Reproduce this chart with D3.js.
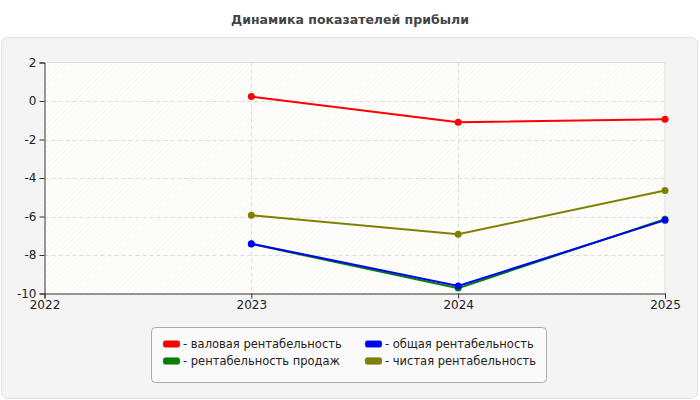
<!DOCTYPE html>
<html><head><meta charset="utf-8">
<script src="https://cdn.jsdelivr.net/npm/d3@7"></script>
<style>body{margin:0;background:#fff}svg{display:block}</style>
</head><body>
<svg id="c" width="700" height="400"></svg>
<script>
const title = "Динамика показателей прибыли";
const years = [2022, 2023, 2024, 2025];
const yTicks = [2, 0, -2, -4, -6, -8, -10];
const seriesNames = ["- валовая рентабельность", "- рентабельность продаж", "- общая рентабельность", "- чистая рентабельность"];
const seriesColors = ["#ff0000", "#008000", "#0000ff", "#808000"];
const dataYears = [2023, 2024, 2025];
const gross = [0.23, -1.1, -0.95];
const sales = [-7.43, -9.72, -6.14];
const total = [-7.41, -9.61, -6.19];
const net = [-5.93, -6.92, -4.65];
const seriesValues = [gross, sales, total, net];
// draw order: olive, red, green, blue
const drawOrder = [3, 0, 1, 2];

const svg = d3.select("#c");
const F = "'DejaVu Sans', sans-serif";
const defs = svg.append("defs");
const pat = defs.append("pattern").attr("id","hatch").attr("patternUnits","userSpaceOnUse")
  .attr("width",4).attr("height",4).attr("patternTransform","rotate(45)");
pat.append("rect").attr("width",4).attr("height",4).attr("fill","#fefefb");
pat.append("line").attr("x1",0).attr("y1",0).attr("x2",0).attr("y2",4).attr("stroke","#efefef").attr("stroke-width",1);

svg.append("rect").attr("x",0).attr("y",0).attr("width",700).attr("height",400).attr("fill","#ffffff");
svg.append("rect").attr("x",1.5).attr("y",37.5).attr("width",696).attr("height",361).attr("rx",6)
  .attr("fill","#f4f4f4").attr("stroke","#e2e2e2");

svg.append("text").attr("x",350).attr("y",24).attr("text-anchor","middle")
  .attr("font-family",F).attr("font-weight","bold").attr("font-size",12.5).attr("fill","#444")
  .text(title);

const L=44.5, R=665, T=62.5, B=293.5;
const x = d3.scaleLinear().domain([2022,2025]).range([L,R]);
const y = d3.scaleLinear().domain([-10,2]).range([B,T]);

svg.append("rect").attr("x",L).attr("y",T).attr("width",R-L).attr("height",B-T).attr("fill","url(#hatch)");
// frame top/right
svg.append("path").attr("d",`M${L},${T}H${R}V${B}`).attr("fill","none").attr("stroke","#dddddd");

const g = svg.append("g");
g.selectAll("line.hg").data(yTicks.filter(v=>v>-10&&v<2)).join("line")
  .attr("x1",L).attr("x2",R).attr("y1",d=>Math.round(y(d))+0.5).attr("y2",d=>Math.round(y(d))+0.5)
  .attr("stroke","#dcdcdc").attr("stroke-dasharray","4,3");
g.selectAll("line.vg").data(years.filter(v=>v>2022&&v<2025)).join("line")
  .attr("x1",d=>Math.round(x(d))+0.5).attr("x2",d=>Math.round(x(d))+0.5).attr("y1",T).attr("y2",B)
  .attr("stroke","#dcdcdc").attr("stroke-dasharray","4,3");

const yAxis = d3.axisLeft(y).tickValues(yTicks).tickFormat(d=>String(d)).tickSizeOuter(0).tickSize(5).tickPadding(3);
const ya = svg.append("g").attr("transform",`translate(${L},0)`).call(yAxis);
const xAxis = d3.axisBottom(x).tickValues(years).tickFormat(d=>String(d)).tickSizeOuter(0).tickSize(5).tickPadding(2);
const xa = svg.append("g").attr("transform",`translate(0,${B})`).call(xAxis);
[ya,xa].forEach(a=>{
  a.select(".domain").attr("stroke","#333");
  a.selectAll(".tick line").attr("stroke","#333");
  a.selectAll(".tick text").attr("font-family",F).attr("font-size",12).attr("fill","#222");
});

const line = d3.line().x((d,i)=>x(dataYears[i])).y(d=>y(d));
drawOrder.forEach(k=>{
  const vals = seriesValues[k];
  svg.append("path").datum(vals).attr("d",line).attr("fill","none")
    .attr("stroke",seriesColors[k]).attr("stroke-width",2);
  svg.append("g").selectAll("circle").data(vals).join("circle")
    .attr("cx",(d,i)=>x(dataYears[i])).attr("cy",d=>y(d)).attr("r",3.5).attr("fill",seriesColors[k]);
});

// legend
svg.append("rect").attr("x",151.5).attr("y",327.5).attr("width",395).attr("height",55).attr("rx",4)
  .attr("fill","#fafafa").attr("stroke","#aaaaaa");
const legPos = [[163,344],[163,361],[365,344],[365,361]];
seriesNames.forEach((n,k)=>{
  const [lx,ly] = legPos[k];
  svg.append("rect").attr("x",lx).attr("y",ly-3.5).attr("width",17).attr("height",7).attr("rx",2.5)
    .attr("fill",seriesColors[k]).attr("stroke","#999").attr("stroke-width",0.5);
  svg.append("text").attr("x",lx+20).attr("y",ly+4).attr("font-family",F).attr("font-size",11.5)
    .attr("fill","#222").text(n);
});
</script>
</body></html>
